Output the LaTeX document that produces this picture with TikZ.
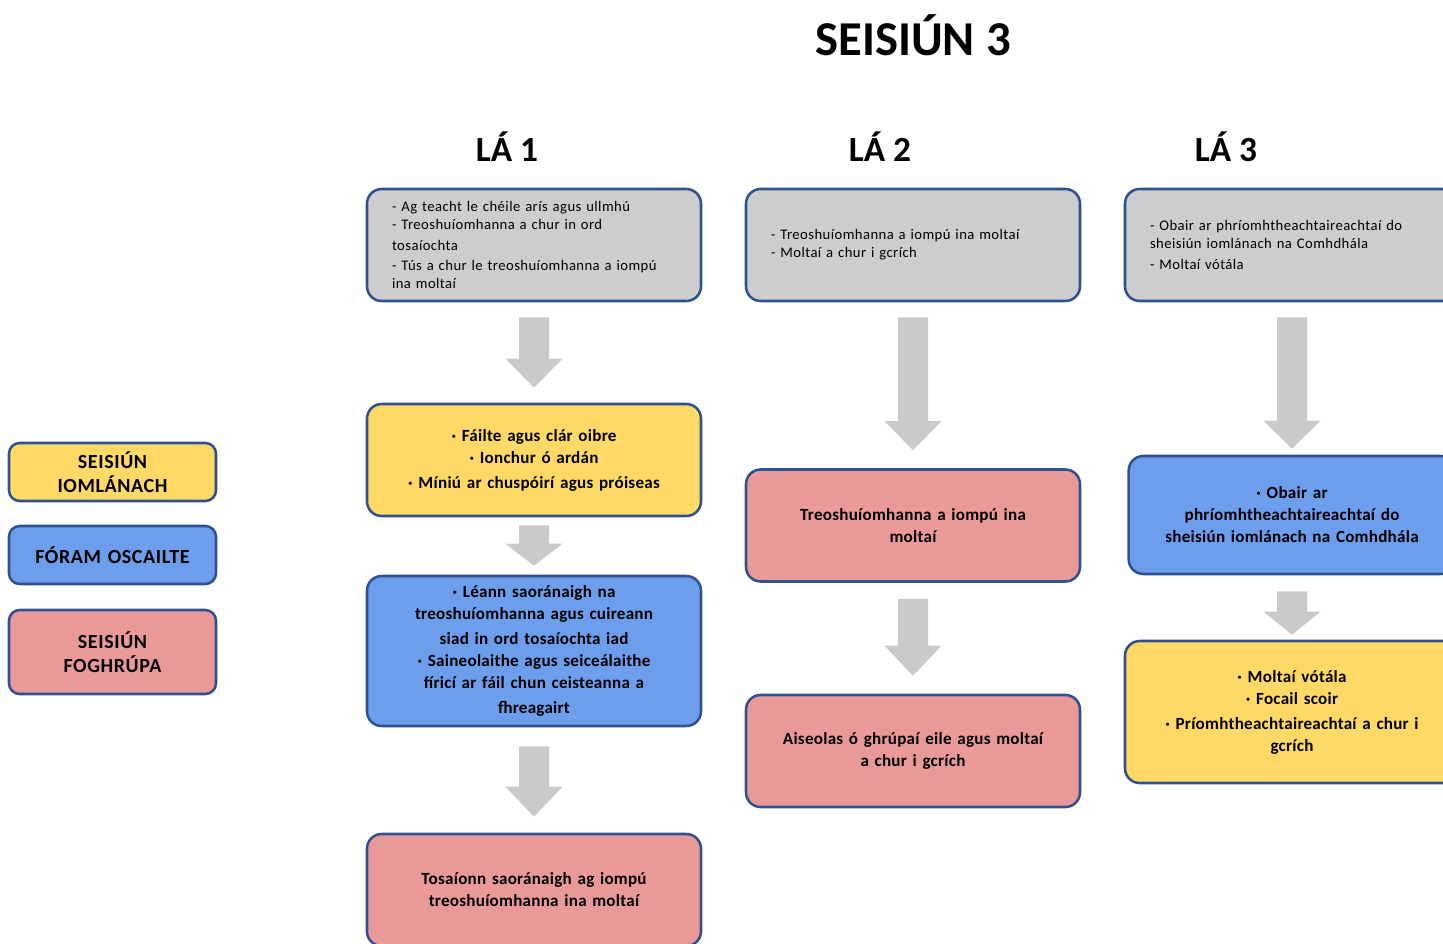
\documentclass[tikz,border=0pt]{standalone}
\usepackage{fontspec}
\setmainfont{Carlito}
\newfontfamily\grayfnt[LetterSpace=3]{Carlito}
\newfontfamily\boldfnt[LetterSpace=1.5]{Carlito}
\newfontfamily\legfnt[LetterSpace=3]{Carlito}
\usetikzlibrary{calc}
\definecolor{bcol}{HTML}{2F528F}
\definecolor{boxgray}{HTML}{CDCDCD}
\definecolor{boxyellow}{HTML}{FFD966}
\definecolor{boxblue}{HTML}{6D9EEB}
\definecolor{boxpink}{HTML}{EA9999}
\definecolor{agray}{HTML}{CACACA}
% block arrow: #1 source node, #2 target node, #3 gap below source, #4 gap above target, #5 head length (px)
\newcommand\blockarr[5]{%
  \fill[agray] ($(#1.south)+(-15,#3)$) -- ($(#1.south)+(15,#3)$)
    -- ($(#2.north)+(15,{-#4-#5})$) -- ($(#2.north)+(28.5,{-#4-#5})$)
    -- ($(#2.north)+(0,-#4)$)
    -- ($(#2.north)+(-28.5,{-#4-#5})$) -- ($(#2.north)+(-15,{-#4-#5})$) -- cycle;}
\begin{document}
\begin{tikzpicture}[x=0.75pt,y=-0.75pt,
  box/.style={draw=bcol, line width=1.9pt, rounded corners=11pt, inner sep=0pt,
    minimum width=250.5pt, minimum height=84pt},
  gbox/.style={box, fill=boxgray, align=left, text width=213pt,
    font=\grayfnt\fontsize{11}{13.5}\selectfont},
  bbox/.style={box, align=center, text width=245pt,
    font=\boldfnt\bfseries\fontsize{12.8}{16.5}\selectfont},
  lbox/.style={draw=bcol, line width=1.9pt, rounded corners=8pt, inner sep=0pt,
    minimum width=155.25pt, minimum height=43.5pt, align=center, text width=150pt,
    font=\legfnt\bfseries\fontsize{15}{18}\selectfont},
  daytitle/.style={font=\bfseries\fontsize{26.5}{30}\selectfont},
]
\useasboundingbox (0,0) rectangle (1443,943);
\clip (0,0) rectangle (1443,943);

% titles
\node[font=\bfseries\fontsize{36.5}{40}\selectfont] (title) at (913,35) {SEISIÚN 3};
\node[daytitle] (d1) at (507,147) {LÁ 1};
\node[daytitle] (d2) at (880,147) {LÁ 2};
\node[daytitle] (d3) at (1226,147) {LÁ 3};

% legend
\node[lbox, fill=boxyellow] (l1) at (112.5,472) {SEISIÚN\\IOMLÁNACH};
\node[lbox, fill=boxblue] (l2) at (112.5,555) {FÓRAM OSCAILTE};
\node[lbox, fill=boxpink, minimum height=63pt] (l3) at (112.5,652) {SEISIÚN\\FOGHRÚPA};

% column 1
\node[gbox] (g1) at (534,245) {- Ag teacht le chéile arís agus ullmhú\\
  - Treoshuíomhanna a chur in ord\\[2pt] tosaíochta\\[1.5pt]
  - Tús a chur le treoshuíomhanna a iompú\\ ina moltaí};
\node[bbox, fill=boxyellow] (y1) at (534,460) {· Fáilte agus clár oibre\\
  · Ionchur ó ardán\\[2.25pt] · Míniú ar chuspóirí agus próiseas};
\node[bbox, fill=boxblue, minimum height=112.5pt] (b1) at (534,651) {· Léann saoránaigh na\\
  treoshuíomhanna agus cuireann\\[2.25pt] siad in ord tosaíochta iad\\
  · Saineolaithe agus seiceálaithe\\ fíricí ar fáil chun ceisteanna a\\[2.25pt] fhreagairt};
\node[bbox, fill=boxpink] (p1) at (534,890) {Tosaíonn saoránaigh ag iompú\\
  treoshuíomhanna ina moltaí};

% column 2
\node[gbox] (g2) at (913,245) {- Treoshuíomhanna a iompú ina moltaí\\
  - Moltaí a chur i gcrích};
\node[bbox, fill=boxpink] (p2a) at (913,525.5) {Treoshuíomhanna a iompú ina\\ moltaí};
\node[bbox, fill=boxpink] (p2b) at (913,751) {Aiseolas ó ghrúpaí eile agus moltaí\\ a chur i gcrích};

% column 3
\node[gbox] (g3) at (1292,245) {- Obair ar phríomhtheachtaireachtaí do\\
  sheisiún iomlánach na Comhdhála\\[2pt] - Moltaí vótála};
\node[bbox, fill=boxblue, minimum height=88.5pt, minimum width=244.5pt] (b3) at (1292,515) {· Obair ar\\
  phríomhtheachtaireachtaí do\\ sheisiún iomlánach na Comhdhála};
\node[bbox, fill=boxyellow, minimum height=106.5pt] (y3) at (1292,712) {· Moltaí vótála\\
  · Focail scoir\\[2.25pt] · Príomhtheachtaireachtaí a chur i\\ gcrích};

% arrows
\blockarr{g1}{y1}{15}{15}{29}
\blockarr{y1}{b1}{8}{9}{22}
\blockarr{b1}{p1}{19}{16}{30}
\blockarr{g2}{p2a}{15}{18}{29}
\blockarr{p2a}{p2b}{16}{18}{30}
\blockarr{g3}{b3}{15}{6}{28}
\blockarr{b3}{y3}{16}{5}{23}
\end{tikzpicture}
\end{document}
